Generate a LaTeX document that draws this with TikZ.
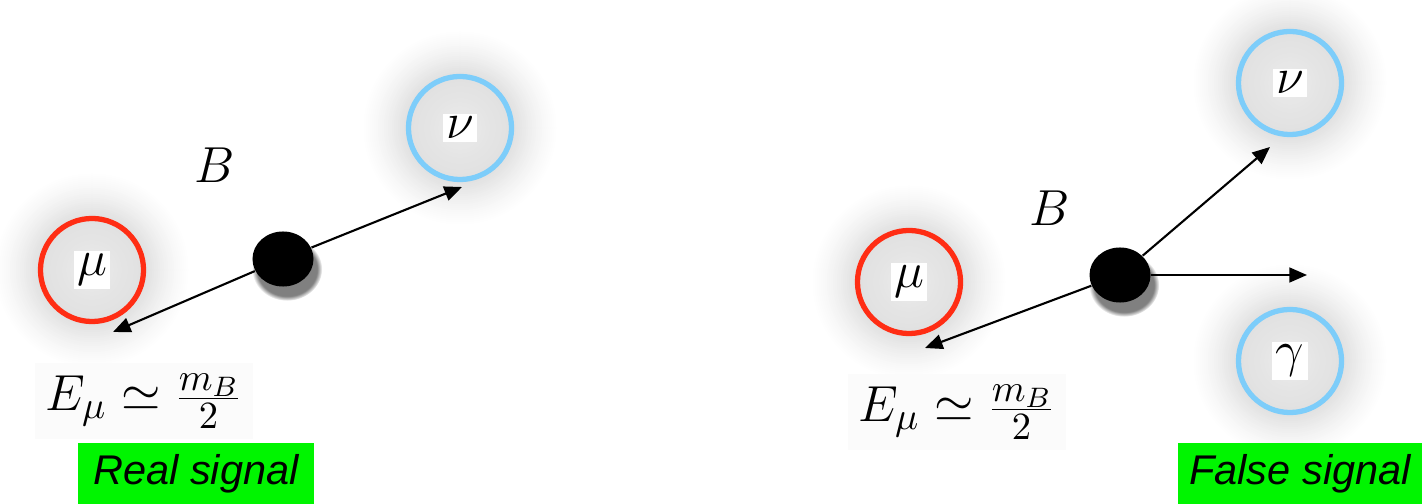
\documentclass[tikz,border=0pt]{standalone}
\usepackage{fontspec}
\newfontfamily\labfont{Liberation Sans}
\usetikzlibrary{arrows.meta,shapes.geometric,shadows,backgrounds,fadings}
\definecolor{murred}{RGB}{255,45,20}
\definecolor{nublue}{RGB}{125,205,250}
\definecolor{siggreen}{RGB}{0,245,0}
\newcommand{\wbox}[1]{{\setlength\fboxsep{1pt}\colorbox{white}{#1}}}
\begin{document}
\begin{tikzpicture}[x=0.01cm,y=-0.01cm,
  part/.style={circle,draw,line width=1.5pt,minimum size=1.03cm,inner sep=0pt,font=\fontsize{14}{16}\selectfont},
  mucol/.style={draw=murred},
  nucol/.style={draw=nublue},
  blob/.style={ellipse,fill=black,minimum width=0.61cm,minimum height=0.55cm,inner sep=0pt,
    circular drop shadow={shadow xshift=1pt,shadow yshift=-2.5pt,shadow scale=1.15}},
  arr/.style={-{Triangle[length=5pt,width=4.2pt]},line width=0.6pt},
  tag/.style={fill=siggreen,minimum width=2.36cm,minimum height=0.615cm,inner sep=0pt,
    font=\labfont\itshape\fontsize{11.8}{14}\selectfont},
  mathlbl/.style={font=\fontsize{15.5}{18}\selectfont,fill=white!98.5!black,inner sep=3pt},
  blbl/.style={font=\fontsize{13.5}{16}\selectfont,inner sep=1pt}]
\useasboundingbox (0,0) rectangle (1422,504);

% ---- left: real signal ----
\node[part,mucol] (muL) at (92,270) {\wbox{$\mu$}};
\node[part,nucol] (nuL) at (460,128) {\wbox{$\nu$}};
\node[blob] (dotL) at (283,259) {};
\node[blbl] (BL) at (215,165) {$B$};
\coordinate (tipLmu) at (113,332);
\coordinate (tipLnu) at (462,187);
\draw[arr] (dotL) -- (tipLmu);
\draw[arr] (dotL) -- (tipLnu);
\node[mathlbl] (EL) at (144,401) {$E_\mu \simeq \frac{m_B}{2}$};
\node[tag] (realtag) at (196,473.5) {Real signal};

% ---- right: false signal ----
\node[part,mucol] (muR) at (909,282) {\wbox{$\mu$}};
\node[part,nucol] (nuR) at (1290,83) {\wbox{$\nu$}};
\node[part,nucol] (gaR) at (1290,361) {\wbox{$\gamma$}};
\node[blob] (dotR) at (1120,275) {};
\node[blbl] (BR) at (1050,208) {$B$};
\coordinate (tipRmu) at (925,348);
\coordinate (tipRnu) at (1270,147);
\coordinate (tipRga) at (1307,275);
\draw[arr] (dotR) -- (tipRmu);
\draw[arr] (dotR) -- (tipRnu);
\draw[arr] (dotR) -- (tipRga);
\node[mathlbl] (ER) at (957,412) {$E_\mu \simeq \frac{m_B}{2}$};
\node[tag,minimum width=2.44cm] (falsetag) at (1300,473.5) {False signal};

% ---- glows (soft grey halos) ----
\begin{scope}[on background layer]
  \foreach \n in {muL,nuL,muR,nuR,gaR}{
    \foreach \r in {98,96,...,2}{
      \pgfmathsetmacro\g{\r>54 ? 100-12*((98-\r)/44)^1.25 : 92-4*(\r/54)}
      \fill[white!\g!black] (\n) circle (\r*0.01cm);
    }
  }
\end{scope}
\end{tikzpicture}
\end{document}
